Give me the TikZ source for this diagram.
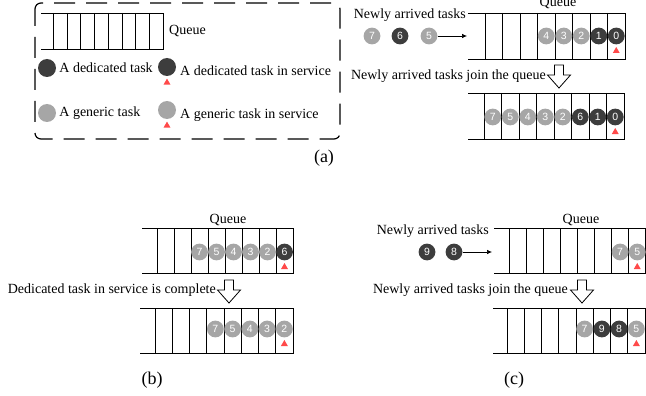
\documentclass[tikz,border=0pt]{standalone}
\usepackage{fontspec}
\setmainfont{Liberation Serif}
\setsansfont{Liberation Sans}
\usetikzlibrary{positioning,arrows.meta,shapes.geometric}

\definecolor{darktask}{HTML}{3D3D3D}
\definecolor{greytask}{HTML}{A6A6A6}
\definecolor{servered}{HTML}{FF4A4A}

\tikzset{
  qline/.style={line width=0.8pt},
  task/.style={circle,minimum size=16.8pt,inner sep=0pt,text=white,font=\sffamily\fontsize{10.5}{10.5}\selectfont},
  dedtask/.style={task,fill=darktask},
  gentask/.style={task,fill=greytask},
  serve/.style={regular polygon,regular polygon sides=3,fill=servered,minimum size=8pt,inner sep=0pt},
  txt/.style={inner sep=1pt,font=\fontsize{14}{16}\selectfont},
  feed/.style={-{Latex[length=5pt,width=4.5pt]},line width=0.7pt},
}

% queue: left end, first wall, cell width, top, bottom
\newcommand{\drawqueue}[5]{%
  \draw[qline] (#1,#4) -- ({#2+8*#3},#4) -- ({#2+8*#3},#5) -- (#1,#5);
  \foreach \k in {0,...,7} {\draw[qline] ({#2+\k*#3},#4) -- ({#2+\k*#3},#5);}
}
% hollow down arrow: centre x, top y
\newcommand{\hollowdown}[2]{%
  \draw[line width=0.8pt,fill=white] ({#1-4.5},#2) -- ({#1+4.5},#2) -- ({#1+4.5},{#2+10})
    -- ({#1+11.5},{#2+10}) -- (#1,{#2+23}) -- ({#1-11.5},{#2+10}) -- ({#1-4.5},{#2+10}) -- cycle;
}

\begin{document}
\begin{tikzpicture}[x=1pt,y=-1pt]
  \useasboundingbox (0,0) rectangle (646,396);

  % legend
  \draw[line width=1.2pt,dash pattern=on 21pt off 11pt,dash phase=4pt,rounded corners=6pt] (35,3) rectangle (340,139);
  \drawqueue{41}{53.3}{13.75}{13}{49}
  \node[txt,anchor=west] (lqueue) at (168,31) {Queue};
  \node[dedtask,minimum size=18pt] (ld) at (47,68) {};
  \node[txt,right=2pt of ld] (ldtxt) {A dedicated task};
  \node[dedtask,minimum size=18pt] (lds) at (167,67) {};
  \node[serve,below=2pt of lds] (ldsr) {};
  \node[txt,anchor=west] (ldstxt) at (179,71) {A dedicated task in service};
  \node[gentask,minimum size=18pt] (lg) at (47,113) {};
  \node[txt,right=2pt of lg] (lgtxt) {A generic task};
  \node[gentask,minimum size=18pt] (lgs) at (167,110) {};
  \node[serve,below=2pt of lgs] (lgsr) {};
  \node[txt,anchor=west] (lgstxt) at (179,115) {A generic task in service};

  % (a)
  \drawqueue{468}{485}{17.5}{13}{59}
  \node[txt] (aqueue) at (558,3) {Queue};
  \node[txt,anchor=east] (anew) at (467,15) {Newly arrived tasks};
  \node[gentask] (a7) at (372,36) {7};
  \node[dedtask] (a6) at (400,36) {6};
  \node[gentask] (a5) at (429,36) {5};
  \coordinate (ain) at (467,36);
  \draw[feed] (a5) -- (ain);
  \foreach \n/\s [count=\k from 4] in {4/gentask,3/gentask,2/gentask,1/dedtask,0/dedtask}
    \node[\s] (aq\n) at ({485+(\k-0.5)*17.5},36) {\n};
  \node[serve,below=2pt of aq0] (aserve) {};
  \node[txt,anchor=east] (ajoin) at (547,76) {Newly arrived tasks join the queue};
  \hollowdown{559}{65}
  \drawqueue{468}{484}{17.5}{93}{139}
  \foreach \n/\s [count=\k] in {7/gentask,5/gentask,4/gentask,3/gentask,2/gentask,6/dedtask,1/dedtask,0/dedtask}
    \node[\s] (ab\n) at ({484+(\k-0.5)*17.5},117) {\n};
  \node[serve,below=2pt of ab0] (abserve) {};
  \node[font=\fontsize{18}{20}\selectfont] (alabel) at (324,158) {(a)};

  % (b)
  \drawqueue{142}{157}{17}{228}{273}
  \node[txt] (bqueue) at (228,220) {Queue};
  \foreach \n/\s [count=\k from 3] in {7/gentask,5/gentask,4/gentask,3/gentask,2/gentask,6/dedtask}
    \node[\s] (bq\n) at ({157+(\k-0.5)*17},252) {\n};
  \node[serve,below=2pt of bq6] (bserve) {};
  \node[txt,anchor=east] (bdone) at (217,290) {Dedicated task in service is complete};
  \hollowdown{229}{280}
  \drawqueue{140}{155}{17.25}{308}{353}
  \foreach \n/\s [count=\k from 4] in {7/gentask,5/gentask,4/gentask,3/gentask,2/gentask}
    \node[\s] (bb\n) at ({155+(\k-0.5)*17.25},329) {\n};
  \node[serve,below=2pt of bb2] (bbserve) {};
  \node[font=\fontsize{18}{20}\selectfont] (blabel) at (152,380) {(b)};

  % (c)
  \drawqueue{494}{509}{17.1}{228}{273}
  \node[txt] (cqueue) at (581,220) {Queue};
  \node[txt,anchor=east] (cnew) at (490,231) {Newly arrived tasks};
  \node[dedtask] (c9) at (427,252) {9};
  \node[dedtask] (c8) at (454,252) {8};
  \coordinate (cin) at (492,252);
  \draw[feed] (c8) -- (cin);
  \foreach \n/\s [count=\k from 7] in {7/gentask,5/gentask}
    \node[\s] (cq\n) at ({509+(\k-0.5)*17.1},252) {\n};
  \node[serve,below=2pt of cq5] (cserve) {};
  \node[txt,anchor=east] (cjoin) at (569,290) {Newly arrived tasks join the queue};
  \hollowdown{582}{280}
  \drawqueue{493}{507}{17.25}{308}{353}
  \foreach \n/\s [count=\k from 5] in {7/gentask,9/dedtask,8/dedtask,5/gentask}
    \node[\s] (cb\n) at ({507+(\k-0.5)*17.25},329) {\n};
  \node[serve,below=2pt of cb5] (cbserve) {};
  \node[font=\fontsize{18}{20}\selectfont] (clabel) at (514,380) {(c)};
\end{tikzpicture}
\end{document}
